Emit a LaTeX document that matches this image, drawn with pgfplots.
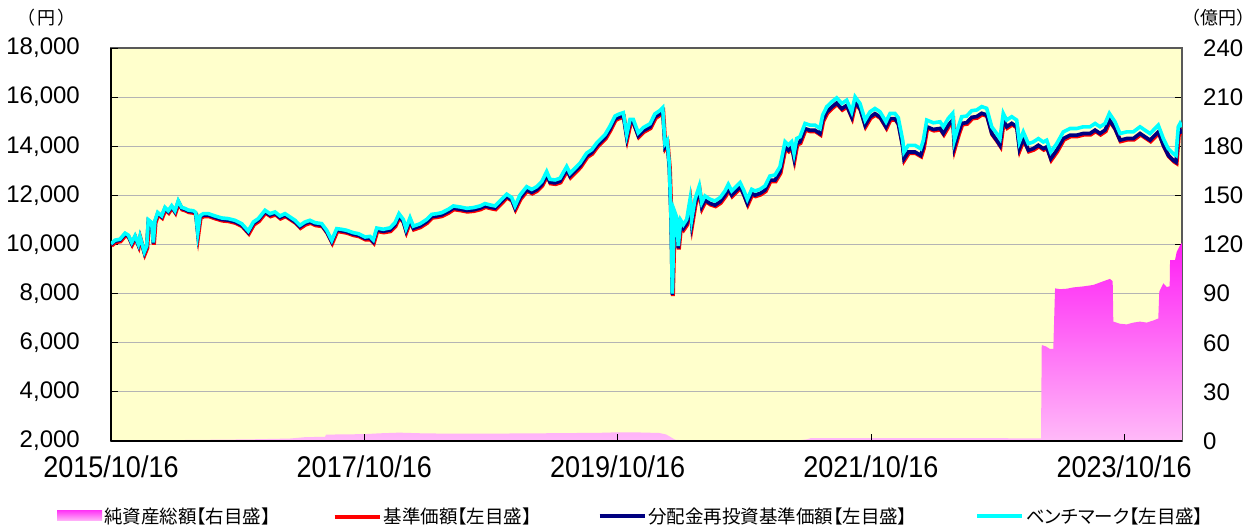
\documentclass[border=0pt]{standalone}
\usepackage{fontspec}
\setmainfont{Liberation Sans}
\newfontfamily\jp{Noto Sans CJK JP}
\newfontfamily\jpp[RawFeature=+palt]{Noto Sans CJK JP}
\newfontfamily\xlab[FakeStretch=0.9]{Liberation Sans}
\usepackage{pgfplots}
\usepackage{pgfplotstable}
\pgfplotsset{compat=1.18}
\definecolor{bgy}{HTML}{FFFFCC}
\definecolor{navl}{HTML}{000080}
\definecolor{bml}{HTML}{00FFFF}
\definecolor{redl}{HTML}{FF0000}
\definecolor{pinktop}{HTML}{FF1EF5}
\definecolor{pinkbot}{HTML}{FFBAF8}
\definecolor{gridc}{HTML}{B4B4B4}

\pgfplotstableread{
x nav bm
2015.790 10000 10030
2015.822 10136 10176
2015.861 10177 10217
2015.901 10422 10462
2015.927 10340 10380
2015.953 10041 10081
2015.980 10313 10353
2016.006 9973 10013
2016.019 10286 10326
2016.053 9660 9700
2016.072 9905 9945
2016.085 10966 11006
2016.111 10857 10897
2016.124 10041 10081
2016.137 10925 10965
2016.159 11265 11305
2016.190 11129 11169
2016.216 11469 11509
2016.242 11333 11373
2016.269 11537 11577
2016.295 11333 11373
2016.321 11741 11781
2016.348 11469 11509
2016.374 11429 11469
2016.400 11361 11401
2016.440 11333 11373
2016.459 11265 11305
2016.475 10449 10489
2016.493 11129 11169
2016.519 11197 11257
2016.558 11197 11257
2016.611 11102 11162
2016.664 11020 11080
2016.716 10993 11053
2016.769 10925 10985
2016.822 10789 10849
2016.874 10490 10550
2016.914 10857 10917
2016.953 10993 11053
2017.006 11333 11393
2017.045 11197 11257
2017.085 11265 11325
2017.124 11102 11162
2017.164 11197 11257
2017.203 11061 11121
2017.243 10925 10985
2017.282 10721 10781
2017.322 10857 10917
2017.361 10925 10985
2017.401 10830 10890
2017.454 10789 10849
2017.493 10517 10577
2017.533 10109 10169
2017.572 10585 10645
2017.612 10558 10618
2017.651 10517 10577
2017.703 10422 10482
2017.743 10381 10441
2017.796 10245 10305
2017.835 10250 10330
2017.861 10109 10189
2017.888 10589 10669
2017.940 10540 10620
2017.993 10589 10679
2018.032 10794 10884
2018.064 11164 11254
2018.098 10931 11021
2018.119 10562 10652
2018.151 11000 11090
2018.177 10657 10747
2018.230 10753 10843
2018.283 10931 11021
2018.322 11137 11227
2018.362 11164 11254
2018.401 11205 11295
2018.453 11342 11432
2018.493 11479 11569
2018.546 11438 11528
2018.599 11384 11474
2018.651 11411 11501
2018.704 11479 11569
2018.743 11575 11665
2018.783 11521 11611
2018.822 11479 11569
2018.875 11753 11843
2018.914 11959 12049
2018.954 11822 11912
2018.980 11479 11569
2019.019 11890 12010
2019.072 12233 12353
2019.112 12123 12243
2019.151 12233 12353
2019.191 12438 12558
2019.230 12849 12969
2019.256 12534 12654
2019.296 12507 12627
2019.335 12575 12695
2019.388 13055 13175
2019.414 12781 12901
2019.454 12986 13106
2019.493 13192 13312
2019.546 13603 13723
2019.586 13740 13860
2019.625 14014 14134
2019.651 14151 14271
2019.691 14356 14476
2019.730 14699 14819
2019.770 15110 15230
2019.796 15178 15298
2019.835 15247 15367
2019.862 14356 14476
2019.888 14973 15093
2019.914 14973 15093
2019.953 14425 14545
2019.993 14630 14760
2020.046 14785 14915
2020.085 15192 15322
2020.125 15327 15457
2020.146 15435 15565
2020.164 13973 14103
2020.182 14108 14238
2020.198 13161 13291
2020.212 10994 11094
2020.222 7950 8000
2020.238 11265 11365
2020.257 10994 11094
2020.269 9843 9943
2020.288 10859 10989
2020.309 10656 10806
2020.336 10859 11029
2020.362 11671 11841
2020.375 10859 11029
2020.401 11671 11841
2020.435 12213 12383
2020.454 11536 11706
2020.480 11807 11977
2020.520 11671 11841
2020.559 11603 11773
2020.599 11739 11909
2020.638 12010 12180
2020.664 12280 12450
2020.691 12010 12180
2020.730 12213 12383
2020.757 12348 12518
2020.783 12077 12247
2020.814 11671 11841
2020.849 12077 12247
2020.875 12010 12180
2020.914 12077 12247
2020.954 12213 12383
2020.993 12619 12789
2021.033 12619 12829
2021.072 12957 13167
2021.112 13973 14183
2021.138 13838 14048
2021.165 13973 14183
2021.183 13499 13709
2021.204 14108 14318
2021.230 14176 14386
2021.270 14718 14928
2021.309 14650 14860
2021.349 14650 14860
2021.388 14515 14725
2021.409 15056 15266
2021.441 15395 15605
2021.481 15598 15808
2021.520 15760 15970
2021.560 15530 15740
2021.599 15665 15875
2021.638 15192 15402
2021.665 15801 16011
2021.704 15530 15740
2021.744 14853 15063
2021.783 15192 15402
2021.822 15327 15537
2021.862 15192 15402
2021.909 14785 14995
2021.941 15124 15334
2021.980 15124 15334
2022.006 14921 15161
2022.041 13973 14243
2022.051 13493 13763
2022.085 13767 14037
2022.138 13767 14037
2022.183 13630 13900
2022.204 13973 14243
2022.231 14795 15065
2022.283 14685 14955
2022.336 14726 14996
2022.362 14521 14791
2022.401 14863 15133
2022.436 15069 15339
2022.449 13973 14243
2022.480 14521 14791
2022.507 14932 15202
2022.546 14959 15229
2022.586 15178 15448
2022.625 15206 15476
2022.665 15343 15613
2022.704 15274 15544
2022.744 14521 14791
2022.783 14247 14517
2022.809 14041 14311
2022.835 15069 15339
2022.862 14795 15065
2022.902 14932 15202
2022.941 14795 15065
2022.962 13904 14174
2022.993 14315 14585
2023.033 13836 14106
2023.072 13904 14174
2023.112 14041 14311
2023.151 13904 14174
2023.178 13973 14243
2023.210 13493 13763
2023.257 13836 14106
2023.309 14315 14585
2023.362 14452 14722
2023.415 14452 14722
2023.467 14521 14791
2023.520 14521 14791
2023.560 14658 14928
2023.599 14521 14791
2023.639 14658 14928
2023.673 15069 15339
2023.717 14726 14996
2023.757 14247 14517
2023.810 14315 14585
2023.862 14315 14585
2023.915 14521 14791
2023.954 14384 14654
2023.994 14247 14517
2024.033 14452 14722
2024.059 14589 14859
2024.099 14041 14311
2024.138 13630 13900
2024.178 13425 13695
2024.199 13356 13626
2024.217 14521 14791
2024.231 14658 14928
2024.246 14521 14791
}\navtable

\pgfplotstableread{
x na
2015.790 0.2
2016.098 0.4
2016.493 0.7
2016.888 1.0
2017.203 1.5
2017.330 2.4
2017.480 2.5
2017.488 3.9
2017.796 4.2
2017.914 4.7
2018.064 5.1
2018.285 4.6
2018.625 4.5
2019.019 4.6
2019.651 5.0
2019.785 5.3
2019.967 5.2
2020.117 4.9
2020.172 4.0
2020.196 3.0
2020.220 1.9
2020.243 0.8
2020.306 0.4
2021.230 0.5
2021.285 1.0
2021.317 1.8
2022.020 1.8
2022.809 1.7
2023.117 1.6
2023.133 1.6
2023.139 58.6
2023.173 57.7
2023.204 56.2
2023.230 56.2
2023.244 93.2
2023.283 92.7
2023.336 93.0
2023.388 93.8
2023.467 94.4
2023.546 95.3
2023.599 96.8
2023.652 98.3
2023.678 99.0
2023.699 97.5
2023.704 72.9
2023.757 71.6
2023.810 71.2
2023.862 72.3
2023.915 72.9
2023.968 72.3
2024.020 73.6
2024.059 74.8
2024.067 91.2
2024.099 96.3
2024.126 94.0
2024.149 94.5
2024.152 110.5
2024.191 110.5
2024.205 115.6
2024.231 119.5
2024.246 121.0
}\natable

\begin{document}
\begin{tikzpicture}
\path[use as bounding box] (-111pt,-86pt) rectangle (1144pt,441pt);
% right axis: net assets
\begin{axis}[
  at={(0pt,0pt)}, anchor=south west, scale only axis,
  width=1071pt, height=393pt,
  xmin=2015.79, xmax=2024.246, ymin=0, ymax=240,
  axis background/.style={fill=bgy},
  axis line style={draw=black!65, line width=1.6pt},
  xtick=\empty,
  ytick={0,30,...,240}, ytick pos=right, yticklabel pos=right,
  tick align=inside, major tick length=7pt,
  tick style={black, line width=0.8pt},
  ymajorgrids, grid style={gridc, line width=1.2pt},
  /pgf/number format/assume math mode=true,
  yticklabel style={font=\fontsize{24}{28}\selectfont, anchor=west, inner sep=0pt, xshift=21pt},
]
\addplot[draw=none, top color=pinktop, bottom color=pinkbot] table[x=x, y=na] {\natable} \closedcycle;
\end{axis}
% left axis: prices
\begin{axis}[
  at={(0pt,0pt)}, anchor=south west, scale only axis,
  width=1071pt, height=393pt,
  xmin=2015.79, xmax=2024.246, ymin=2000, ymax=18000,
  axis x line*=bottom, axis y line*=left,
  axis line style={black, line width=1.6pt, -},
  xtick={2015.79,2017.79,2019.79,2021.79,2023.79},
  xticklabels={2015/10/16,2017/10/16,2019/10/16,2021/10/16,2023/10/16},
  ytick={2000,4000,...,18000},
  tick align=inside, major tick length=7pt,
  tick style={black, line width=0.8pt},
  scaled y ticks=false,
  /pgf/number format/1000 sep={,},
  /pgf/number format/assume math mode=true,
  yticklabel style={font=\fontsize{24}{28}\selectfont, anchor=east, inner sep=0pt, xshift=-31pt},
  xticklabel style={font=\xlab\fontsize{30}{34}\selectfont, anchor=center, inner sep=0pt, yshift=-26pt},
  legend columns=4,
  legend style={draw=none, fill=none, inner sep=0pt,
    at={(axis description cs:-0.0504,-0.1908)}, anchor=west,
    font=\jpp\fontsize{18.5}{22}\selectfont,
    /tikz/column 2/.style={column sep=60pt},
    /tikz/column 4/.style={column sep=64pt},
    /tikz/column 6/.style={column sep=66pt}},
  legend image code/.code={\draw[#1] (0pt,0pt) -- (45pt,0pt);},
]
\addlegendimage{draw=none, legend image code/.code={\path[draw=none, top color=pinktop!80!pinkbot, bottom color=pinkbot] (0pt,-5pt) rectangle (45pt,5pt);}}
\addlegendentry{純資産総額【右目盛】}
\addplot[redl, line width=4pt, yshift=-1.2pt, xshift=0.6pt] table[x=x, y=nav] {\navtable};
\addlegendentry{基準価額【左目盛】}
\addplot[navl, line width=3.6pt] table[x=x, y=nav] {\navtable};
\addlegendentry{分配金再投資基準価額【左目盛】}
\addplot[bml, line width=3.6pt] table[x=x, y=bm] {\navtable};
\addlegendentry{ベンチマーク【左目盛】}
\end{axis}
\node[font=\jp\fontsize{18}{20}\selectfont] at (-64.5pt,423pt) {（\kern2pt 円\kern2pt ）};
\node[font=\jp\fontsize{18}{20}\selectfont] at (1107.5pt,423pt) {（億円）};
\end{tikzpicture}
\end{document}
